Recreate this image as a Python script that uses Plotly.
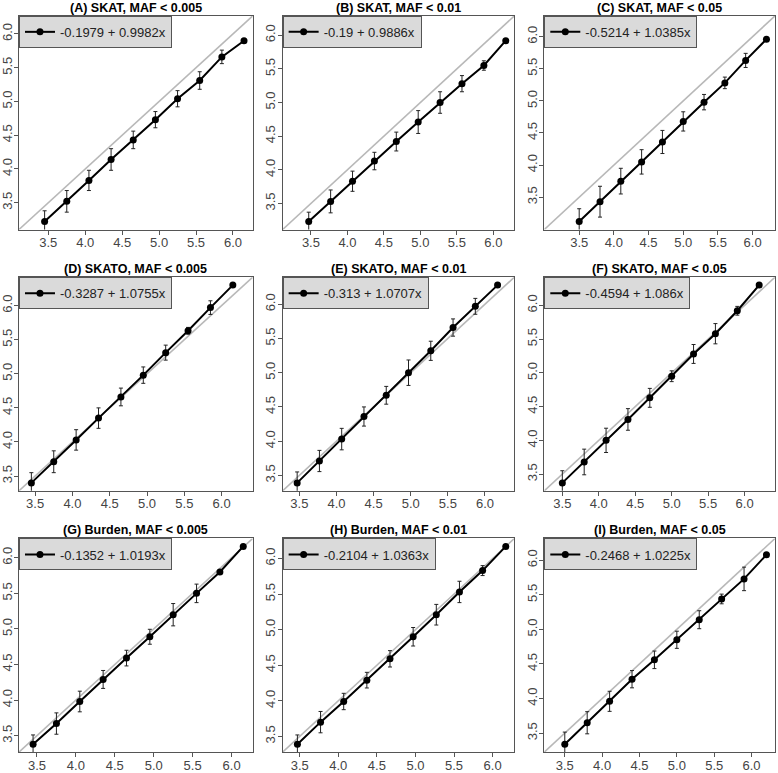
import plotly.graph_objects as go

# expected vs observed, one list per panel
x_col1 = [3.45, 3.75, 4.05, 4.35, 4.65, 4.95, 5.25, 5.55, 5.85, 6.15]
x_col2 = [3.47, 3.77, 4.07, 4.37, 4.67, 4.97, 5.27, 5.57, 5.87, 6.17]
x_col3 = [3.50, 3.80, 4.10, 4.40, 4.70, 5.00, 5.30, 5.60, 5.90, 6.20]

y_A = [3.22, 3.52, 3.83, 4.14, 4.43, 4.73, 5.04, 5.31, 5.66, 5.90]
y_B = [3.23, 3.53, 3.83, 4.13, 4.42, 4.71, 5.00, 5.28, 5.55, 5.92]
y_C = [3.12, 3.43, 3.75, 4.05, 4.36, 4.68, 4.98, 5.28, 5.63, 5.96]
y_D = [3.40, 3.71, 4.03, 4.35, 4.66, 4.98, 5.31, 5.63, 5.97, 6.30]
y_E = [3.39, 3.71, 4.03, 4.36, 4.67, 5.00, 5.32, 5.66, 5.97, 6.28]
y_F = [3.37, 3.68, 4.00, 4.31, 4.63, 4.95, 5.28, 5.58, 5.92, 6.30]
y_G = [3.38, 3.67, 3.98, 4.29, 4.59, 4.89, 5.20, 5.50, 5.80, 6.16]
y_H = [3.39, 3.70, 3.99, 4.29, 4.59, 4.90, 5.21, 5.53, 5.83, 6.17]
y_I = [3.34, 3.65, 3.96, 4.28, 4.56, 4.85, 5.14, 5.44, 5.73, 6.08]

err_A = [0.16, 0.16, 0.15, 0.16, 0.13, 0.12, 0.12, 0.13, 0.10, 0]
err_B = [0.14, 0.17, 0.15, 0.13, 0.14, 0.17, 0.16, 0.12, 0.07, 0]
err_C = [0.20, 0.24, 0.20, 0.19, 0.18, 0.15, 0.12, 0.09, 0.11, 0]
err_D = [0.15, 0.16, 0.15, 0.15, 0.13, 0.12, 0.11, 0.05, 0.10, 0]
err_E = [0.16, 0.155, 0.157, 0.14, 0.13, 0.186, 0.14, 0.126, 0.116, 0]
err_F = [0.18, 0.19, 0.18, 0.16, 0.14, 0.08, 0.14, 0.15, 0.065, 0]
err_G = [0.13, 0.15, 0.145, 0.126, 0.11, 0.105, 0.157, 0.13, 0.02, 0]
err_H = [0.13, 0.15, 0.115, 0.11, 0.115, 0.13, 0.145, 0.15, 0.07, 0]
err_I = [0.175, 0.16, 0.145, 0.125, 0.127, 0.124, 0.13, 0.07, 0.17, 0]

titles = ["(A) SKAT, MAF < 0.005", "(B) SKAT, MAF < 0.01", "(C) SKAT, MAF < 0.05",
          "(D) SKATO, MAF < 0.005", "(E) SKATO, MAF < 0.01", "(F) SKATO, MAF < 0.05",
          "(G) Burden, MAF < 0.005", "(H) Burden, MAF < 0.01", "(I) Burden, MAF < 0.05"]
equations = ["-0.1979 + 0.9982x", "-0.19 + 0.9886x", "-0.5214 + 1.0385x",
             "-0.3287 + 1.0755x", "-0.313 + 1.0707x", "-0.4594 + 1.086x",
             "-0.1352 + 1.0193x", "-0.2104 + 1.0363x", "-0.2468 + 1.0225x"]
tick_vals = [3.5, 4.0, 4.5, 5.0, 5.5, 6.0]

panels = [
    (x_col1, y_A, err_A), (x_col2, y_B, err_B), (x_col3, y_C, err_C),
    (x_col1, y_D, err_D), (x_col2, y_E, err_E), (x_col3, y_F, err_F),
    (x_col1, y_G, err_G), (x_col2, y_H, err_H), (x_col3, y_I, err_I),
]

W, H = 778, 773
col_px = [(18, 252), (282, 514), (544, 775)]
row_px = [(16, 231), (279, 494), (542, 757)]
FONT = "Liberation Sans, Arial, sans-serif"

fig = go.Figure()
layout = {}
annotations = []

for i, (xs, ys, es) in enumerate(panels):
    r, c = divmod(i, 3)
    n = "" if i == 0 else str(i + 1)
    xa, ya = "x" + n, "y" + n
    lo = min(min(xs), min(ys))
    hi = max(max(xs), max(ys))
    pad = 0.04 * (hi - lo)
    rng = [lo - pad, hi + pad]

    xd = [col_px[c][0] / W, col_px[c][1] / W]
    yd = [1 - row_px[r][1] / H, 1 - row_px[r][0] / H]

    # y = x reference line
    fig.add_trace(go.Scatter(
        x=rng, y=rng, mode="lines", xaxis=xa, yaxis=ya,
        line=dict(color="#b8b8b8", width=1.6), showlegend=False,
        hoverinfo="skip",
    ))
    leg = "legend" + n
    fig.add_trace(go.Scatter(
        x=xs, y=ys, mode="lines+markers", xaxis=xa, yaxis=ya,
        name=equations[i], legend=leg,
        line=dict(color="black", width=2),
        marker=dict(color="black", size=7),
        error_y=dict(type="data", array=es, color="#222", thickness=1, width=2),
    ))

    axis_common = dict(
        range=rng, tickvals=tick_vals, tickformat=".1f",
        showgrid=False, zeroline=False, showline=True, mirror=True,
        linecolor="#555", linewidth=1, ticks="outside", ticklen=4,
        ticklabelstandoff=-3,
        tickcolor="#555", tickfont=dict(family=FONT, size=13, color="#444"),
    )
    layout["xaxis" + n] = dict(axis_common, domain=xd, anchor=ya)
    layout["yaxis" + n] = dict(axis_common, domain=yd, anchor=xa, tickangle=-90)
    layout[leg] = dict(
        x=xd[0], y=yd[1], xanchor="left", yanchor="top",
        bgcolor="#dadada", bordercolor="#555", borderwidth=1,
        font=dict(family=FONT, size=13, color="#222"),
        itemwidth=30,
    )
    annotations.append(dict(
        text="<b>" + titles[i] + "</b>", x=(xd[0] + xd[1]) / 2, y=yd[1],
        xref="paper", yref="paper", xanchor="center", yanchor="middle",
        yshift=8, showarrow=False, font=dict(family=FONT, size=12.5, color="black"),
    ))

fig.update_layout(
    **layout,
    annotations=annotations,
    width=W, height=H,
    margin=dict(l=0, r=0, t=0, b=0),
    plot_bgcolor="white", paper_bgcolor="white",
)

# drop the browser's default page margin so the figure sits at the top-left
fig.write_html("out.html", config={"displayModeBar": False},
               post_script="document.body.style.margin='0';")
